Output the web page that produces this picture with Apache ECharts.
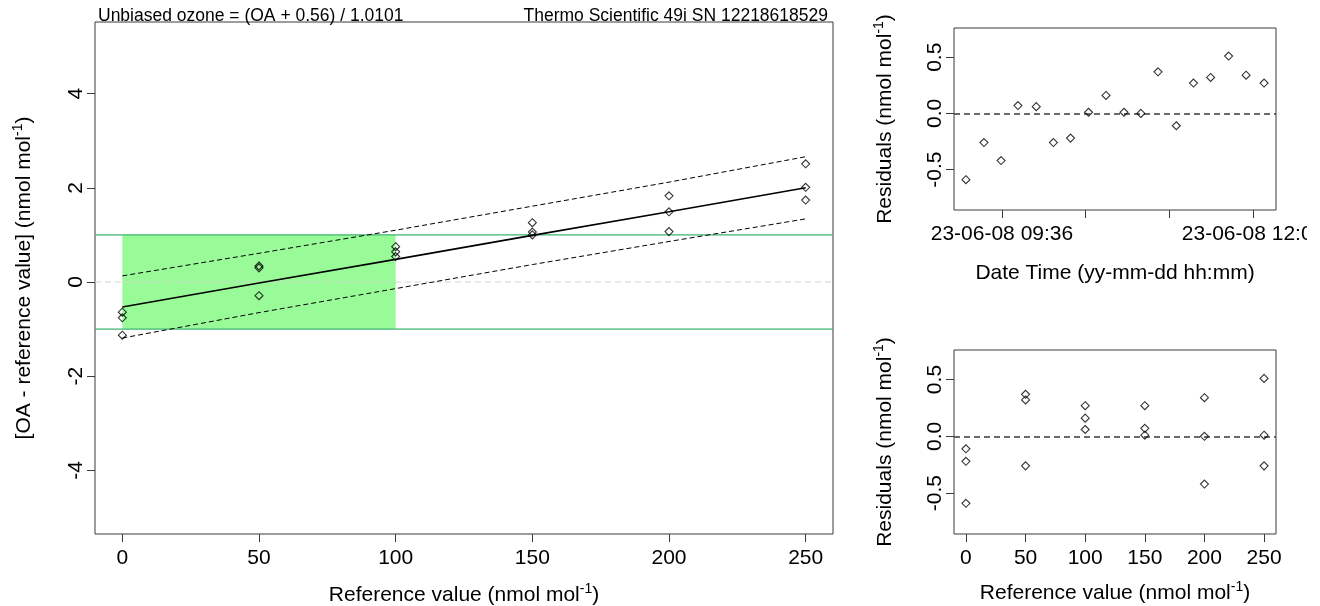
<!DOCTYPE html>
<html>
<head>
<meta charset="utf-8">
<script src="https://cdn.jsdelivr.net/npm/echarts@6/dist/echarts.min.js"></script>
<style>
  html, body { margin: 0; padding: 0; background: #fff; }
  #chart { width: 1320px; height: 606px; }
</style>
</head>
<body>
<div id="chart"></div>
<script>
// ---- Calibration run data -------------------------------------------------
const runDate = '23-06-08';
// acquisition time of each run (hh:mm:ss)
const runTimes = ['09:15:20', '09:25:40', '09:35:30', '09:45:10', '09:55:40', '10:05:30',
                  '10:15:20', '10:25:40', '10:35:40', '10:46:00', '10:55:40', '11:05:30',
                  '11:16:00', '11:25:50', '11:35:40', '11:46:00', '11:56:00', '12:06:20'];
// reference ozone value of each run (nmol/mol)
const refValues = [0, 250, 200, 150, 100, 50, 0, 150, 100, 250, 200, 50, 0, 100, 50, 250, 200, 150];
// analyser reading minus reference (nmol/mol)
const diffValues = [-1.13, 1.74, 1.07, 1.06, 0.54, -0.29, -0.76, 1.00, 0.64, 2.01, 1.49, 0.34,
                    -0.64, 0.75, 0.30, 2.51, 1.83, 1.26];
// regression residuals (nmol/mol)
const residualValues = [-0.59, -0.26, -0.42, 0.07, 0.06, -0.26, -0.22, 0.01, 0.16, 0.01, 0.00, 0.37,
                        -0.11, 0.27, 0.32, 0.51, 0.34, 0.27];

// fitted line and its prediction band
const bandRef = [0, 50, 100, 150, 200, 250];
const fitLine = [-0.53, -0.02, 0.48, 0.99, 1.49, 2.00];
const upperBand = [0.13, 0.61, 1.10, 1.61, 2.12, 2.66];
const lowerBand = [-1.19, -0.65, -0.14, 0.37, 0.86, 1.34];

// tolerance zone: +/- 1 nmol/mol up to 100 nmol/mol
const toleranceLimit = 1;
const toleranceRange = 100;

// tick labels
const refTicks = [0, 50, 100, 150, 200, 250];
const diffTicks = [-4, -2, 0, 2, 4];
const residualTicks = [-0.5, 0, 0.5];
const timeTicks = ['09:36', '10:24', '11:12', '12:00'];
const timeTickLabels = ['09:36', '12:00'];

// ---- helpers --------------------------------------------------------------
function toMinutes(s) {
  const p = s.split(':').map(Number);
  return p[0] * 60 + p[1] + (p[2] || 0) / 60;
}
function pad2(n) { return (n < 10 ? '0' : '') + n; }
function fmtTime(m) {
  const r = Math.round(m);
  return runDate + ' ' + pad2(Math.floor(r / 60)) + ':' + pad2(r % 60);
}
const runMinutes = runTimes.map(toMinutes);
const tMin = Math.min.apply(null, runMinutes), tMax = Math.max.apply(null, runMinutes);
const tPad = (tMax - tMin) * 0.04;

// axis extents: data range widened by 4 % on each side
const refMin = -10, refMax = 260;

const FONT = '"Liberation Sans", Arial, sans-serif';
const TXT = '#000';
const BOX = '#3a3a3a';
const FS = 21;
const unitRich = {
  sup: { fontSize: 14, fontFamily: FONT, color: TXT, padding: [0, 0, 12, 0] }
};

function tick(values) {
  return { show: true, length: 8, customValues: values, lineStyle: { color: BOX, width: 1 } };
}
function labels(values, margin, extra) {
  return Object.assign({ color: TXT, fontSize: FS, fontFamily: FONT, margin: margin, customValues: values }, extra || {});
}
function axis(extra) {
  return Object.assign({
    type: 'value',
    axisLine: { show: false, onZero: false },
    splitLine: { show: false },
    nameLocation: 'middle',
    nameTextStyle: { color: TXT, fontSize: FS, fontFamily: FONT, rich: unitRich }
  }, extra);
}
function panel(left, top, width, height) {
  return { left: left, top: top, width: width, height: height, show: true,
           borderColor: BOX, borderWidth: 1, containLabel: false, outerBoundsMode: 'none' };
}
// horizontal reference line across the whole reference-value axis
function hLine(value, color, dash, width, z) {
  return {
    type: 'line', xAxisIndex: 0, yAxisIndex: 0, symbol: 'none', silent: true, z: z,
    data: [[refMin, value], [refMax, value]],
    lineStyle: { color: color, type: dash, width: width }
  };
}
function zeroLine(color) {
  return {
    silent: true, symbol: 'none', label: { show: false },
    lineStyle: { color: color, type: [6, 4], width: 1.6 },
    data: [{ yAxis: 0 }]
  };
}

const diamond = {
  type: 'scatter', symbol: 'diamond', symbolSize: [8, 8],
  itemStyle: { color: 'rgba(0,0,0,0)', borderColor: '#000', borderWidth: 1.1 },
  z: 5
};

const chart = echarts.init(document.getElementById('chart'), null, { renderer: 'canvas' });

chart.setOption({
  animation: false,
  backgroundColor: '#fff',
  textStyle: { fontFamily: FONT },
  title: [
    { text: 'Unbiased ozone = (OA + 0.56) / 1.0101', left: 93, top: 2,
      textStyle: { fontSize: 17.5, fontWeight: 'normal', color: TXT, fontFamily: FONT } },
    { text: 'Thermo Scientific 49i SN 12218618529', right: 487, top: 2,
      textStyle: { fontSize: 17.5, fontWeight: 'normal', color: TXT, fontFamily: FONT } }
  ],
  grid: [
    panel(95, 22, 738, 512),
    panel(954, 28, 322, 182),
    panel(954, 350, 322, 184)
  ],
  graphic: [
    // right margin of the time panel cuts off the last date label
    { type: 'rect', right: 0, top: 215, shape: { width: 13, height: 36 }, style: { fill: '#fff' }, z: 100, silent: true }
  ],
  xAxis: [
    axis({
      gridIndex: 0, min: refMin, max: refMax,
      axisTick: tick(refTicks), axisLabel: labels(refTicks, 14),
      name: 'Reference value (nmol mol{sup|-1})', nameGap: 48
    }),
    axis({
      gridIndex: 1, min: tMin - tPad, max: tMax + tPad,
      axisTick: tick(timeTicks.map(toMinutes)),
      axisLabel: labels(timeTickLabels.map(toMinutes), 14, { formatter: fmtTime }),
      name: 'Date Time (yy-mm-dd hh:mm)', nameGap: 53
    }),
    axis({
      gridIndex: 2, min: refMin, max: refMax,
      axisTick: tick(refTicks), axisLabel: labels(refTicks, 14),
      name: 'Reference value (nmol mol{sup|-1})', nameGap: 46
    })
  ],
  yAxis: [
    axis({
      gridIndex: 0, min: -5.35, max: 5.52,
      axisTick: tick(diffTicks), axisLabel: labels(diffTicks, 8, { rotate: 90 }),
      name: '[OA - reference value] (nmol mol{sup|-1})', nameGap: 58
    }),
    axis({
      gridIndex: 1, min: -0.86, max: 0.76,
      axisTick: tick(residualTicks),
      axisLabel: labels(residualTicks, 8, { rotate: 90, formatter: v => v.toFixed(1) }),
      name: 'Residuals (nmol mol{sup|-1})', nameGap: 56
    }),
    axis({
      gridIndex: 2, min: -0.86, max: 0.76,
      axisTick: tick(residualTicks),
      axisLabel: labels(residualTicks, 8, { rotate: 90, formatter: v => v.toFixed(1) }),
      name: 'Residuals (nmol mol{sup|-1})', nameGap: 56
    })
  ],
  series: [
    // tolerance zone
    {
      type: 'line', xAxisIndex: 0, yAxisIndex: 0, data: [], silent: true,
      markArea: {
        silent: true,
        itemStyle: { color: '#98fb98', opacity: 1 },
        data: [[{ coord: [0, -toleranceLimit] }, { coord: [toleranceRange, toleranceLimit] }]]
      }
    },
    // tolerance limits and zero reference
    hLine(toleranceLimit, '#3cb371', 'solid', 1.2, 3),
    hLine(-toleranceLimit, '#3cb371', 'solid', 1.2, 3),
    hLine(0, '#d3d3d3', [6, 4], 1, 3),
    // regression line and prediction band
    {
      type: 'line', xAxisIndex: 0, yAxisIndex: 0, symbol: 'none', silent: true,
      data: bandRef.map((x, i) => [x, fitLine[i]]),
      lineStyle: { color: '#000', width: 1.6 }, z: 4
    },
    {
      type: 'line', xAxisIndex: 0, yAxisIndex: 0, symbol: 'none', silent: true,
      data: bandRef.map((x, i) => [x, upperBand[i]]),
      lineStyle: { color: '#000', width: 1, type: [5, 3] }, z: 4
    },
    {
      type: 'line', xAxisIndex: 0, yAxisIndex: 0, symbol: 'none', silent: true,
      data: bandRef.map((x, i) => [x, lowerBand[i]]),
      lineStyle: { color: '#000', width: 1, type: [5, 3] }, z: 4
    },
    Object.assign({}, diamond, {
      xAxisIndex: 0, yAxisIndex: 0,
      data: refValues.map((x, i) => [x, diffValues[i]])
    }),
    // residuals against time
    Object.assign({}, diamond, {
      xAxisIndex: 1, yAxisIndex: 1,
      data: runMinutes.map((t, i) => [t, residualValues[i]]),
      markLine: zeroLine('#3a3a3a')
    }),
    // residuals against reference value
    Object.assign({}, diamond, {
      xAxisIndex: 2, yAxisIndex: 2,
      data: refValues.map((x, i) => [x, residualValues[i]]),
      markLine: zeroLine('#3a3a3a')
    })
  ]
});
</script>
</body>
</html>
